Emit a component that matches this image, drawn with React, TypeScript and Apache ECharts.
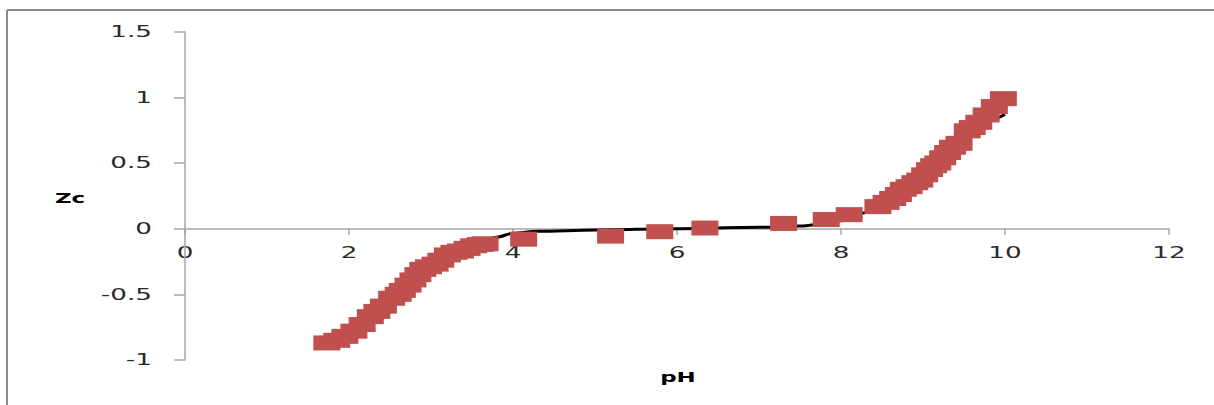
import React, { useEffect, useRef } from "react";
import * as echarts from "echarts";

// Measured points (red squares)
const markerPH = [
  1.73, 1.85, 1.95, 2.06, 2.16, 2.26, 2.34, 2.42, 2.52, 2.6, 2.65, 2.72, 2.78, 2.84, 2.9, 2.97, 3.05, 3.12, 3.2, 3.28, 3.36, 3.44, 3.52, 3.6, 3.66,
  4.13, 5.19, 5.79, 6.34, 7.3, 7.82, 8.1,
  8.45, 8.55, 8.63, 8.7, 8.76, 8.83, 8.9, 8.96, 9.02, 9.08, 9.13, 9.18, 9.24, 9.3, 9.36, 9.44, 9.54, 9.6, 9.68, 9.77, 9.87, 9.98,
];
const markerZc = [
  -0.87, -0.85, -0.82, -0.78, -0.73, -0.67, -0.63, -0.59, -0.53, -0.5, -0.47, -0.43, -0.39, -0.35, -0.31, -0.29, -0.27, -0.24, -0.2, -0.18, -0.17, -0.15, -0.13, -0.12, -0.115,
  -0.08, -0.057, -0.023, 0.005, 0.04, 0.07, 0.107,
  0.168, 0.2, 0.23, 0.26, 0.3, 0.32, 0.35, 0.37, 0.41, 0.45, 0.48, 0.5, 0.54, 0.58, 0.62, 0.65, 0.745, 0.77, 0.81, 0.866, 0.93, 0.99,
];

// Model curve (black line)
const curvePH = [1.7, 2.0, 2.3, 2.6, 2.9, 3.2, 3.5, 3.8, 4.0, 4.3, 5.0, 6.0, 7.0, 7.5, 8.0, 8.27, 8.5, 8.8, 9.1, 9.4, 9.7, 10.0];
const curveZc = [-0.88, -0.8, -0.67, -0.51, -0.34, -0.21, -0.12, -0.065, -0.035, -0.02, -0.01, 0, 0.01, 0.02, 0.06, 0.12, 0.18, 0.3, 0.47, 0.65, 0.8, 0.87];

const xTicks = [0, 2, 4, 6, 8, 10, 12];
const xTickLabels = ["0", "2", "4", "6", "8", "10", "12"];
const yTicks = [1.5, 1, 0.5, 0, -0.5, -1];
const yTickLabels = ["1.5", "1", "0.5", "0", "-0.5", "-1"];

const xTitle = "pH";
const yTitle = "Zc";

export default function App() {
  const ref = useRef<HTMLDivElement>(null);
  useEffect(() => {
    document.body.style.margin = "0";
    const chart = echarts.init(ref.current!, null, { renderer: "svg" });
    const axisColor = "#a6a6a6";
    chart.setOption({
      animation: false,
      grid: { left: 185, right: 45, top: 31.7, bottom: 45 },
      xAxis: {
        type: "value",
        min: 0,
        max: 12,
        interval: 2,
        axisLine: { onZero: true, lineStyle: { color: axisColor, width: 1.5 } },
        axisTick: { show: true, length: 6, lineStyle: { color: axisColor, width: 1.5 } },
        axisLabel: { show: false },
        splitLine: { show: false },
      },
      yAxis: {
        type: "value",
        min: -1,
        max: 1.5,
        interval: 0.5,
        axisLine: { show: true, onZero: false, lineStyle: { color: axisColor, width: 1.5 } },
        axisTick: { show: true, length: 11, lineStyle: { color: axisColor, width: 1.5 } },
        axisLabel: { show: false },
        splitLine: { show: false },
      },
      series: [
        {
          type: "line",
          data: curvePH.map((x, i) => [x, curveZc[i]]),
          smooth: 0.3,
          smoothMonotone: "x",
          showSymbol: false,
          lineStyle: { color: "#000000", width: 3 },
          z: 2,
        },
        {
          type: "scatter",
          data: markerPH.map((x, i) => [x, markerZc[i]]),
          symbol: "rect",
          symbolSize: [27, 15],
          itemStyle: { color: "#C0504D", opacity: 1 },
          z: 3,
        },
      ],
    });

    const font = "'DejaVu Sans', Verdana, sans-serif";
    const g: any[] = [
      { type: "line", shape: { x1: 7, y1: 10, x2: 1214, y2: 10 }, style: { stroke: "#8c8c8c", lineWidth: 2 } },
      { type: "line", shape: { x1: 7, y1: 10, x2: 7, y2: 405 }, style: { stroke: "#8c8c8c", lineWidth: 2 } },
    ];
    const zeroY = chart.convertToPixel({ yAxisIndex: 0 }, 0) as number;
    const yAxisX = chart.convertToPixel({ xAxisIndex: 0 }, 0) as number;
    xTicks.forEach((v, i) => {
      const px = chart.convertToPixel({ xAxisIndex: 0 }, v) as number;
      g.push({
        type: "text",
        x: px,
        y: zeroY + 24,
        scaleX: 1.75,
        style: { text: xTickLabels[i], fill: "#2a2a2a", fontSize: 15, fontFamily: font, align: "center", verticalAlign: "middle" },
      });
    });
    yTicks.forEach((v, i) => {
      const py = chart.convertToPixel({ yAxisIndex: 0 }, v) as number;
      g.push({
        type: "text",
        x: yAxisX - 33,
        y: py,
        scaleX: 1.75,
        style: { text: yTickLabels[i], fill: "#2a2a2a", fontSize: 15, fontFamily: font, align: "right", verticalAlign: "middle" },
      });
    });
    g.push({
      type: "text",
      x: 70,
      y: 198,
      scaleX: 1.7,
      style: { text: yTitle, fill: "#000", fontSize: 13.5, fontWeight: "bold", fontFamily: font, align: "center", verticalAlign: "middle" },
    });
    g.push({
      type: "text",
      x: 678,
      y: 377,
      scaleX: 1.7,
      style: { text: xTitle, fill: "#000", fontSize: 13.5, fontWeight: "bold", fontFamily: font, align: "center", verticalAlign: "middle" },
    });
    chart.setOption({ graphic: g });

    return () => {
      chart.dispose();
    };
  }, []);
  return <div ref={ref} style={{ width: 1214, height: 405 }} />;
}
